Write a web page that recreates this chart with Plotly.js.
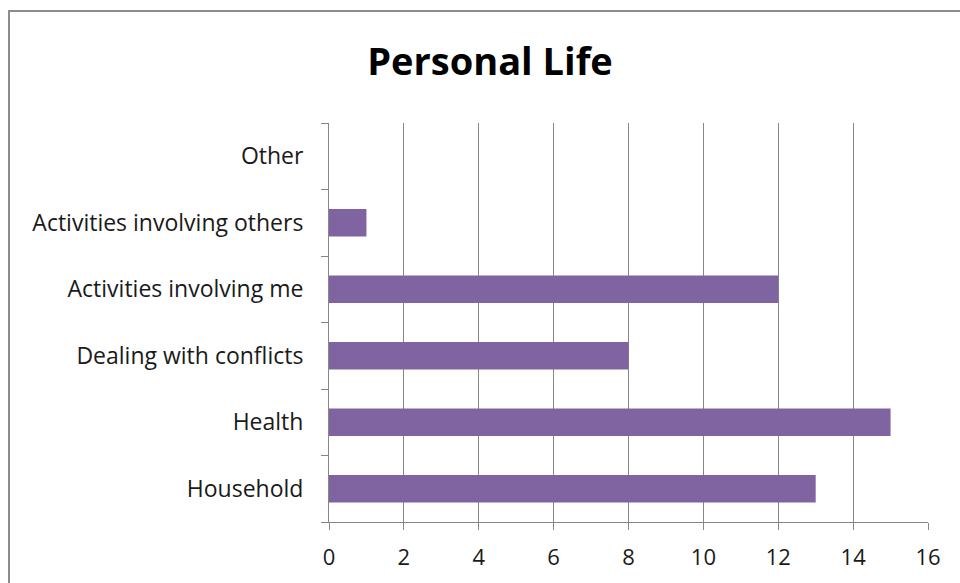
<!DOCTYPE html>
<html>
<head>
<meta charset="utf-8">
<script src="https://cdn.plot.ly/plotly-3.0.1.min.js"></script>
<style>
  body { margin: 0; background: #fff; }
  #wrap { position: relative; width: 960px; height: 583px; overflow: hidden; }
  #frame { position: absolute; left: 8px; top: 10px; width: 1000px; height: 700px;
           border: 2px solid #8c8c8c; pointer-events: none; }
</style>
</head>
<body>
<div id="wrap">
  <div id="chart" style="width:960px;height:583px;"></div>
  <div id="frame"></div>
</div>
<script>
// categories listed bottom to top
const categories = ['Household', 'Health', 'Dealing with conflicts',
                    'Activities involving me', 'Activities involving others', 'Other'];
const counts = [13, 15, 8, 12, 1, 0];
const xTicks = [0, 2, 4, 6, 8, 10, 12, 14, 16];

const trace = {
    type: 'bar',
    orientation: 'h',
    x: counts,
    y: categories,
    marker: { color: '#8064A2' },
    hoverinfo: 'x+y'
};

const layout = {
    width: 960,
    height: 583,
    margin: { l: 329, r: 32, t: 123, b: 61 },
    paper_bgcolor: '#fff',
    plot_bgcolor: '#fff',
    font: { family: '"Open Sans", Lato, sans-serif', size: 22, color: '#1a1a1a' },
    title: {
        text: '<b>Personal Life</b>',
        font: { family: '"Open Sans", Lato, sans-serif', size: 38, color: '#000' },
        x: 490 / 960, xref: 'container', xanchor: 'center',
        y: 1 - 62 / 583, yref: 'container', yanchor: 'middle'
    },
    bargap: 0.59,
    showlegend: false,
    xaxis: {
        range: [0, 16],
        tickvals: xTicks,
        ticktext: xTicks.map(String),
        showgrid: true,
        gridcolor: '#878787',
        gridwidth: 1,
        zeroline: false,
        showline: true,
        linecolor: '#878787',
        linewidth: 1,
        ticks: 'outside',
        ticklen: 7,
        tickcolor: '#878787',
        ticklabelstandoff: 9,
        fixedrange: true
    },
    yaxis: {
        type: 'category',
        categoryorder: 'array',
        categoryarray: categories,
        showgrid: false,
        zeroline: false,
        showline: true,
        linecolor: '#878787',
        linewidth: 1,
        ticks: 'outside',
        tickson: 'boundaries',
        ticklen: 7,
        tickcolor: '#878787',
        tickfont: { size: 23 },
        ticklabelstandoff: 20,
        fixedrange: true
    }
};

Plotly.newPlot('chart', [trace], layout, { displayModeBar: false, responsive: false });
</script>
</body>
</html>
